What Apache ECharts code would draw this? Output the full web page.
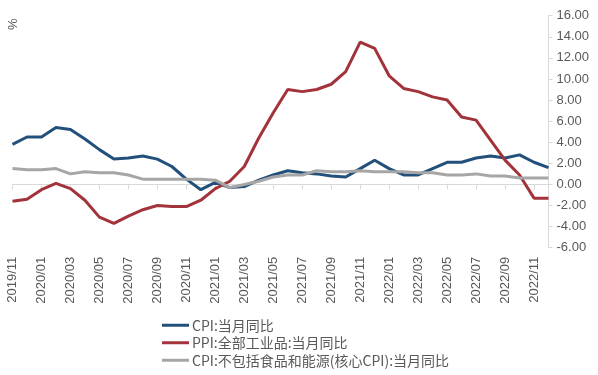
<!DOCTYPE html>
<html>
<head>
<meta charset="utf-8">
<script src="https://cdn.jsdelivr.net/npm/echarts@6/dist/echarts.min.js"></script>
<style>html,body{margin:0;padding:0;background:#fff}#c{width:598px;height:375px}</style>
</head>
<body>
<div id="c"></div>
<script>
const categories = ["2019/11","2019/12","2020/01","2020/02","2020/03","2020/04","2020/05","2020/06","2020/07","2020/08","2020/09","2020/10","2020/11","2020/12","2021/01","2021/02","2021/03","2021/04","2021/05","2021/06","2021/07","2021/08","2021/09","2021/10","2021/11","2021/12","2022/01","2022/02","2022/03","2022/04","2022/05","2022/06","2022/07","2022/08","2022/09","2022/10","2022/11","2022/12"];
const cpi = [3.8,4.5,4.5,5.4,5.2,4.3,3.3,2.4,2.5,2.7,2.4,1.7,0.5,-0.5,0.2,-0.3,-0.2,0.4,0.9,1.3,1.1,1.0,0.8,0.7,1.5,2.3,1.5,0.9,0.9,1.5,2.1,2.1,2.5,2.7,2.5,2.8,2.1,1.6];
const ppi = [-1.6,-1.4,-0.5,0.1,-0.4,-1.5,-3.1,-3.7,-3.0,-2.4,-2.0,-2.1,-2.1,-1.5,-0.4,0.3,1.7,4.4,6.8,9.0,8.8,9.0,9.5,10.7,13.5,12.9,10.3,9.1,8.8,8.3,8.0,6.4,6.1,4.2,2.3,0.9,-1.3,-1.3];
const coreCpi = [1.5,1.4,1.4,1.5,1.0,1.2,1.1,1.1,0.9,0.5,0.5,0.5,0.5,0.5,0.4,-0.3,0.0,0.3,0.7,0.9,0.9,1.3,1.2,1.2,1.3,1.2,1.2,1.2,1.1,1.1,0.9,0.9,1.0,0.8,0.8,0.6,0.6,0.6];
const seriesNames = ["CPI:当月同比","PPI:全部工业品:当月同比","CPI:不包括食品和能源(核心CPI):当月同比"];
const yMin = -6, yMax = 16, yStep = 2;
const unitLabel = "%";

const colors = ['#23507a','#a3333a','#a6a6a6'];
const chart = echarts.init(document.getElementById('c'), null, {renderer:'canvas'});
const labelColor = '#595959';
const font = "'Liberation Sans', Arial, sans-serif";
const mk = (name, data, i) => ({
  name, type:'line', data, xAxisIndex:0, yAxisIndex:0,
  showSymbol:false, symbol:'none', smooth:false,
  lineStyle:{width:3, color:colors[i]}, itemStyle:{color:colors[i]},
  emphasis:{disabled:true}, animation:false
});
chart.setOption({
  animation:false,
  backgroundColor:'#ffffff',
  grid:{left:12.5, right:49.5, top:15.7, bottom:127.3, containLabel:false, outerBoundsMode:'none'},
  xAxis:[
    {type:'category', data:categories, boundaryGap:false, position:'bottom',
     axisLine:{show:false, onZero:false}, axisTick:{show:false}, splitLine:{show:false},
     axisLabel:{rotate:90, interval:1, margin:9, color:labelColor, fontSize:13, fontFamily:font}},
    {type:'category', data:categories, boundaryGap:false, position:'bottom',
     axisLine:{show:true, onZero:true, lineStyle:{color:'#d9d9d9', width:1}},
     axisTick:{show:true, interval:1, length:5, lineStyle:{color:'#d9d9d9'}},
     axisLabel:{show:false}, splitLine:{show:false}}
  ],
  yAxis:{type:'value', position:'right', min:yMin, max:yMax, interval:yStep,
    axisLine:{show:true, lineStyle:{color:'#d9d9d9'}},
    axisTick:{show:true, length:4, lineStyle:{color:'#d9d9d9'}},
    splitLine:{show:false},
    axisLabel:{margin:8, color:labelColor, fontSize:13, fontFamily:font, formatter:v=>v.toFixed(2)}},
  legend:{type:'plain', orient:'vertical', left:162, top:318, width:420, height:120, padding:0,
    icon:'rect', itemWidth:27, itemHeight:3, itemGap:3,
    data:seriesNames,
    textStyle:{color:labelColor, fontSize:14, lineHeight:14.5, fontFamily:"'Noto Sans CJK SC', sans-serif", padding:[0,0,0,-2]},
    selectedMode:false},
  graphic:[{type:'text', x:7, y:30, rotation:Math.PI/2,
    style:{text:unitLabel, fill:labelColor, fontSize:13, fontFamily:font}}],
  series:[mk(seriesNames[0], cpi, 0), mk(seriesNames[1], ppi, 1), mk(seriesNames[2], coreCpi, 2)]
});
</script>
</body>
</html>
